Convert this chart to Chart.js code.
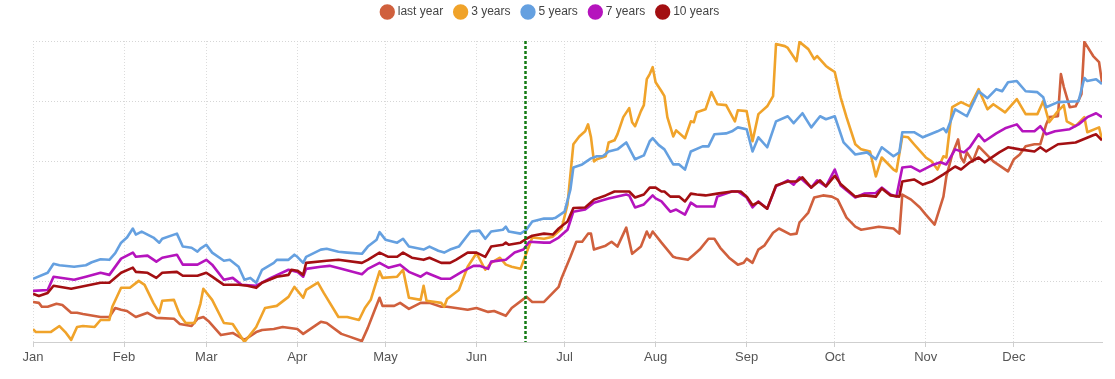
<!DOCTYPE html>
<html>
<head>
<meta charset="utf-8">
<script src="https://cdn.jsdelivr.net/npm/chart.js@4"></script>
<style>
  html, body { margin: 0; padding: 0; background: #fff; }
  #wrap { width: 1115px; height: 379px; position: relative; }
</style>
</head>
<body>
<div id="wrap"><canvas id="chart"></canvas></div>
<script>
// x axis: day of the year (0 = 1 Jan), ticks on the first of each month
const monthStarts = [0, 31, 59, 90, 120, 151, 181, 212, 243, 273, 304, 334];
const monthLabels = ['Jan', 'Feb', 'Mar', 'Apr', 'May', 'Jun', 'Jul', 'Aug', 'Sep', 'Oct', 'Nov', 'Dec'];
const markerDay = 167.5; // green dotted line, mid June

// series as [day, value] pairs
const lastYear = [[0,13.3],[2,13],[3,11.7],[5,11.7],[8,12.7],[10,12.3],[13,9.7],[15,9.7],[17,9.3],[23,8.3],[26,8.3],[28,11.3],[30,10.7],[32,10.3],[35,8.3],[39,9.7],[42,8],[48,7.7],[50,6],[54,5.3],[56,7.7],[58,8.3],[60,6.7],[64,2.3],[68,3],[72,0.7],[76,3.3],[78,4],[82,4.3],[85,5],[90,4.3],[92,2.7],[95,4.7],[98,6.7],[100,6.3],[105,2.7],[108,1.7],[112,0.3],[114,4.7],[116,9.7],[118,14.7],[119,12],[123,12],[125,13],[128,11],[132,13],[135,13],[139,11.7],[141,11.7],[144,11.3],[148,10.7],[151,11.3],[155,10],[157,10.3],[161,8.7],[163,11.3],[168,15],[170,13.3],[174,13.3],[177,16.3],[179,18.3],[180,21.3],[183,28.3],[185,33.3],[187,33.3],[189,36],[190,36],[191,30.7],[195,32],[197,33.3],[199,31.7],[202,38],[204,29.3],[207,31.7],[209,36.7],[210,34.7],[211,36.7],[214,33],[218,28.3],[219,28],[223,27.3],[225,29],[227,30.7],[230,34.3],[232,34.3],[234,31.3],[237,28],[240,25.7],[242,26.3],[243,27.7],[245,26.3],[247,30.7],[249,32],[252,36.3],[254,37.7],[258,35.7],[260,36],[261,39.7],[264,43],[266,48],[269,48.7],[272,48.3],[274,47.3],[277,41.3],[280,38.3],[282,37.3],[288,38.3],[293,37.7],[295,36],[296,49],[299,47.3],[302,44.7],[304,42.3],[307,39],[310,48.3],[311,55],[313,62.3],[315,67.3],[316,61.3],[317,59.7],[318,63],[320,60],[322,65],[327,60],[332,56.7],[334,60.7],[336,62.3],[338,65],[341,65.7],[343,65.7],[345,72.3],[346,74.7],[349,75],[350,89],[351,84.7],[353,78],[355,78.3],[357,82.3],[358,99.7],[361,95],[363,93],[364,86.3]];

const threeYears = [[0,4.3],[1,3.3],[6,3.3],[9,5.3],[11,3.3],[13,0.7],[15,5],[17,5.3],[21,5],[23,7.3],[26,7.3],[27,11.7],[30,18],[33,18],[36,20.3],[38,19],[41,13],[43,9.7],[44,13.7],[48,14],[50,9],[52,6.3],[55,6.3],[57,12.7],[58,17.7],[61,14],[65,6.3],[68,6],[72,0],[76,5],[79,11.3],[83,12],[87,15],[89,18.3],[92,14.7],[93,17.3],[97,19.7],[99,16.3],[104,8.3],[107,8.3],[111,7.3],[113,11.3],[115,14],[118,23.5],[119,21.3],[124,21.7],[126,24],[128,14.7],[132,14],[133,18.7],[134,13.7],[139,13],[140,11.7],[141,14.3],[145,17.3],[148,25],[151,29.5],[154,24],[156,26.3],[159,28],[161,25.7],[163,25],[166,24.3],[170,34.7],[174,34.3],[177,35],[180,37.7],[182,45.7],[184,65.7],[186,68.3],[188,70],[189,72.3],[190,68],[191,60],[192,60.7],[195,61.7],[196,66.3],[198,67],[199,69],[201,74.7],[203,77.7],[204,73],[205,71.7],[207,76.7],[208,78.7],[209,87.3],[210,89],[211,91.3],[212,86.3],[214,83.3],[215,81.7],[216,74.7],[218,68.3],[219,70.3],[222,67.7],[224,73.3],[225,73],[226,76.3],[229,77.3],[231,83],[233,79],[236,78.7],[239,73.3],[240,77],[243,76.7],[245,66.7],[247,75.7],[250,78.3],[252,81.7],[253,99],[256,98.3],[257,97.7],[260,93.3],[261,99.7],[264,97.3],[266,94],[267,95],[270,91.7],[271,91],[273,89.7],[275,81.3],[277,74.7],[280,65.7],[282,64],[285,63.3],[287,55],[289,61.3],[293,57.3],[294,56.7],[296,68.3],[298,68],[300,65.7],[304,61.3],[306,60],[308,57.3],[310,61.7],[311,61.3],[313,78],[316,79.7],[319,78.3],[322,84],[325,77.3],[327,79],[331,76.3],[335,80.7],[338,75.7],[342,75.7],[344,80],[346,73],[349,76.7],[351,78.7],[352,73.3],[355,71.7],[358,74.7],[359,69.7],[363,71.3],[364,67.3]];

const fiveYears = [[0,21],[5,23],[7,26],[9,25.5],[14,25],[18,25.5],[20,26.5],[23,27.5],[26,27.3],[28,29.5],[30,33],[32,34.7],[34,37.7],[35,35.7],[37,36.7],[41,34.7],[43,33],[44,34.3],[49,36],[51,31.7],[54,31.3],[56,30],[57,31],[59,32.3],[61,29.7],[65,27],[67,27.3],[70,25],[72,20.7],[74,21.3],[76,19.7],[78,24],[82,26.3],[83,27.3],[87,27.3],[89,29],[90,28.3],[92,26.3],[93,28.3],[98,30.7],[100,31],[104,30],[107,29.7],[112,29.3],[114,31.7],[117,34],[118,36.5],[120,34],[124,33],[126,34.3],[128,31.7],[133,30.7],[135,31.7],[138,30.3],[140,29.7],[142,30.7],[145,31.7],[149,36.7],[152,37],[154,34.3],[156,36.7],[160,37.3],[161,38.3],[162,36.7],[166,36],[168,37.3],[170,40],[174,41],[177,41],[178,41.3],[181,43.3],[183,50.7],[184,58],[187,59],[190,61],[192,61.7],[194,61.7],[196,63.3],[199,64],[202,66.3],[205,60.7],[208,62],[210,66.7],[211,67.7],[213,65.5],[215,64],[218,59],[220,59],[222,57.3],[224,63.3],[228,65],[230,65],[232,69],[236,69.3],[238,70],[240,71.3],[243,70.7],[245,63.3],[247,68],[250,64.7],[253,73.3],[257,75],[259,72.7],[262,76],[265,71.3],[268,75],[270,74],[273,75],[276,66.3],[280,62.3],[284,63],[287,60.7],[289,64.7],[293,61.7],[295,63],[296,69.7],[300,69.7],[303,68],[308,70],[310,71],[311,69.7],[314,77.3],[318,75],[322,83.3],[325,81],[328,84],[330,83.3],[332,86.3],[335,86.7],[338,83.3],[342,83],[344,81.3],[345,78],[349,79.7],[356,80],[358,87.7],[359,86.7],[362,87.3],[364,85.7]];

const sevenYears = [[0,17],[5,17.3],[7,21.7],[14,20.7],[18,21.7],[23,23],[26,22.3],[30,27.7],[34,29.7],[35,28.3],[39,28.7],[42,26.7],[44,28],[49,29],[51,25.7],[56,25.7],[59,27.3],[61,25.7],[65,20.7],[68,21.3],[71,19],[76,18.7],[81,21.3],[87,24],[90,23.3],[92,21.7],[93,24.3],[98,25],[101,25.3],[105,24.3],[112,22.5],[114,24.3],[118,26.3],[121,24.7],[125,25.7],[128,23.3],[132,21.7],[134,23],[139,21],[142,21],[146,23.3],[150,25.3],[152,25.3],[155,24.3],[156,26.7],[161,27.3],[164,29.7],[167,30.7],[169,33.3],[174,33],[176,33],[179,34.7],[182,37.3],[184,43.3],[188,44],[191,46.3],[196,47.7],[202,49],[203,48.7],[205,44.7],[208,45.7],[211,48.7],[212,47.7],[214,46.7],[217,43.3],[219,44],[222,42.3],[224,46.3],[226,45],[229,45],[232,45],[233,48.3],[238,50],[240,50],[243,48],[245,44.7],[247,46.7],[250,44.3],[253,51.7],[257,53.7],[259,52.3],[261,54.7],[265,51.3],[267,53.7],[270,51.7],[273,57.3],[275,52],[280,48],[283,49.3],[287,49.5],[289,51.3],[292,49],[294,48.3],[296,58],[299,58.3],[302,56.7],[306,58.7],[309,59.7],[311,59],[314,64],[317,63],[319,64.7],[322,69],[324,66.7],[328,69.3],[331,71],[335,72.3],[337,70],[341,70],[343,71.7],[345,69],[348,70],[353,70.7],[356,72.3],[359,74.7],[362,76],[364,74.7]];

const tenYears = [[0,16],[2,15.3],[5,16.3],[7,18.7],[13,17.7],[18,18.7],[23,19.7],[26,19.7],[30,23],[34,24.7],[35,23.3],[39,23],[42,21.3],[44,23],[49,23.3],[51,22],[56,22],[59,23],[61,21.7],[65,19],[70,19],[73,18.7],[76,18],[78,19.7],[83,21.7],[87,22.3],[88,24],[90,23.7],[92,22.3],[93,26.3],[100,27],[104,27.3],[112,26.3],[114,27.3],[118,29.7],[121,28.3],[124,28.3],[126,29.7],[129,28],[133,27.3],[135,28],[139,26.3],[142,26.3],[144,27.3],[148,29.7],[151,29.7],[154,28.3],[156,31.7],[160,32.3],[161,33],[162,32.3],[166,33],[168,34.3],[170,35.3],[174,36],[177,35.7],[179,37.7],[182,40],[184,44.5],[188,44.7],[191,47.3],[195,48.7],[198,50],[203,50],[205,48],[208,49],[210,51.3],[212,51.3],[214,50],[215,50],[217,48.3],[220,48.3],[222,46.7],[224,49.3],[226,49],[229,48.7],[233,49.3],[238,50],[241,50],[243,48.3],[245,45.5],[247,46.5],[250,44.3],[253,52],[257,53.3],[260,53.3],[262,54.7],[265,51.3],[268,53.7],[270,51.7],[273,55.2],[275,52.5],[280,48.3],[283,48.7],[287,48.3],[289,51],[292,48.7],[295,48.3],[296,53.3],[300,54],[303,52.3],[306,53.3],[310,55.7],[314,58.3],[316,57.3],[319,59.7],[322,61.3],[324,59.7],[329,63],[332,64.7],[336,64],[341,63.3],[343,64.7],[345,63.3],[349,65.7],[355,66.3],[361,68.7],[362,69],[364,67]];

const seriesNames = ['last year', '3 years', '5 years', '7 years', '10 years'];
const seriesColors = ['#d0603d', '#f0a32a', '#65a0e0', '#b514bd', '#a30f12'];
const seriesData = [lastYear, threeYears, fiveYears, sevenYears, tenYears];

// later series are drawn on top, so feed them in reverse and reverse the legend back
const datasets = seriesData.map((pts, i) => ({
  label: seriesNames[i],
  data: pts.map(p => ({ x: p[0], y: p[1] })),
  borderColor: seriesColors[i],
  backgroundColor: seriesColors[i],
  borderWidth: 2.6,
  pointRadius: 0,
  tension: 0,
  borderJoinStyle: 'round',
})).reverse();

// green dotted marker line across the plot
const markerLine = {
  id: 'markerLine',
  afterDatasetsDraw(chart) {
    const { ctx, chartArea, scales } = chart;
    const x = Math.round(scales.x.getPixelForValue(markerDay)) + 0.5;
    ctx.save();
    ctx.strokeStyle = '#137a13';
    ctx.lineWidth = 2.5;
    ctx.setLineDash([3, 2]);
    ctx.beginPath();
    ctx.moveTo(x, chartArea.top);
    ctx.lineTo(x, chartArea.bottom);
    ctx.stroke();
    ctx.restore();
  },
};

// push the plot down a bit below the legend
const legendGap = {
  id: 'legendGap',
  beforeInit(chart) {
    const fit = chart.legend.fit;
    chart.legend.fit = function () {
      fit.call(this);
      this.height += 13;
    };
  },
};

new Chart(document.getElementById('chart'), {
  type: 'line',
  data: { datasets: datasets },
  plugins: [markerLine, legendGap],
  options: {
    responsive: true,
    maintainAspectRatio: false,
    animation: false,
    layout: { padding: { top: -7, left: 0, right: 13, bottom: 0 } },
    plugins: {
      legend: {
        reverse: true,
        labels: {
          usePointStyle: true,
          pointStyle: 'circle',
          boxWidth: 9,
          boxHeight: 9,
          padding: 13,
          color: '#444',
          font: { family: 'Arial, "Liberation Sans", sans-serif', size: 12 },
        },
      },
      tooltip: { enabled: false },
    },
    scales: {
      x: {
        type: 'linear',
        min: 0,
        max: 364,
        afterBuildTicks: function (scale) {
          scale.ticks = monthStarts.map(v => ({ value: v }));
        },
        afterFit: function (scale) {
          scale.height = 37;
        },
        ticks: {
          autoSkip: false,
          maxRotation: 0,
          padding: 3,
          color: '#555',
          font: { family: 'Arial, "Liberation Sans", sans-serif', size: 13 },
          callback: function (value) {
            const i = monthStarts.indexOf(value);
            return i >= 0 ? monthLabels[i] : '';
          },
        },
        grid: {
          color: '#dcdcdc',
          tickLength: 5,
          tickColor: '#cfcfcf',
          tickBorderDash: [],
        },
        border: { display: true, color: '#cfcfcf', width: 1, dash: [1, 2] },
      },
      y: {
        min: 0,
        max: 100,
        afterFit: function (scale) {
          scale.width = 33;
        },
        ticks: { stepSize: 20, display: false },
        grid: { color: '#d6d6d6', drawTicks: false },
        border: { display: false, dash: [1, 2] },
      },
    },
  },
});
</script>
</body>
</html>
